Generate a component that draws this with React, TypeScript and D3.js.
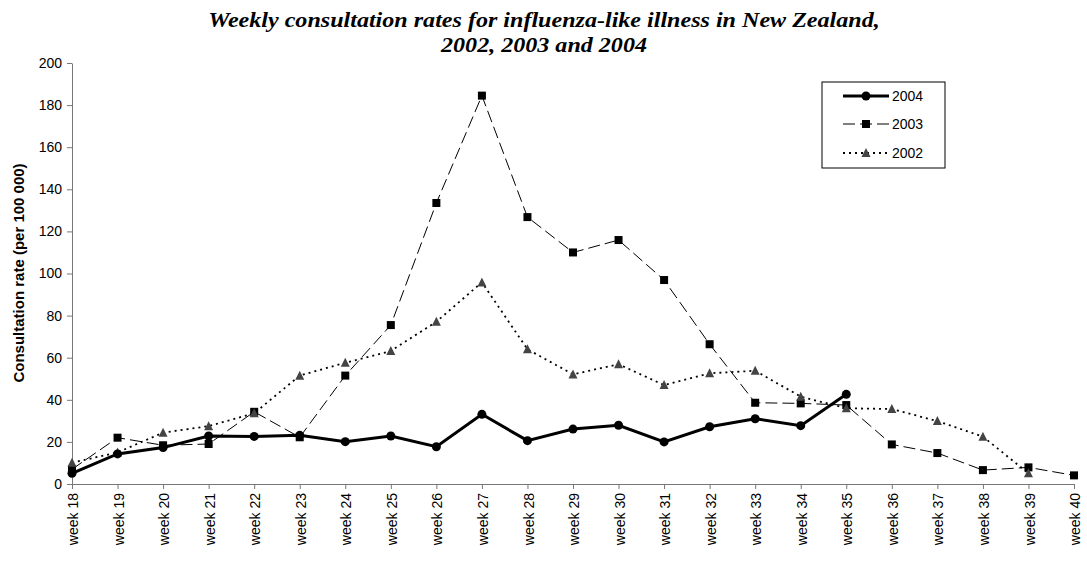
import React, { useEffect, useRef } from 'react';
import * as d3 from 'd3';

const weeks = ['week 18', 'week 19', 'week 20', 'week 21', 'week 22', 'week 23', 'week 24', 'week 25', 'week 26', 'week 27', 'week 28', 'week 29', 'week 30', 'week 31', 'week 32', 'week 33', 'week 34', 'week 35', 'week 36', 'week 37', 'week 38', 'week 39', 'week 40'];

const rates2004 = [5.1, 14.3, 17.3, 22.8, 22.6, 23.1, 20.1, 22.8, 17.7, 33.1, 20.6, 26.1, 27.9, 20.0, 27.2, 31.0, 27.7, 42.6];
const rates2003 = [7.0, 22.0, 18.4, 19.0, 34.3, 22.2, 51.5, 75.5, 133.5, 184.5, 126.8, 110.0, 115.9, 96.9, 66.4, 38.6, 38.3, 37.5, 18.8, 14.7, 6.6, 7.9, 4.1];
const rates2002 = [10.1, 15.0, 24.4, 27.5, 33.6, 51.5, 57.6, 63.2, 77.1, 95.8, 64.0, 52.1, 56.9, 47.0, 52.6, 53.8, 41.5, 36.0, 35.6, 29.9, 22.5, 5.1];

const yTicks = [0, 20, 40, 60, 80, 100, 120, 140, 160, 180, 200];

const App = () => {
  const svgRef = useRef(null);

  useEffect(() => {
    const svg = d3.select(svgRef.current);
    svg.selectAll('*').remove();

    const left = 72, right = 1074, top = 63, bottom = 484;
    const axisColor = '#777';

    const x = d3.scalePoint().domain(weeks).range([left, right]);
    const y = d3.scaleLinear().domain([0, 200]).range([bottom, top]);

    // title, squeezed to the width of the original
    const title = svg.append('g')
      .attr('font-family', '"Liberation Serif", "Times New Roman", serif')
      .attr('font-weight', 'bold')
      .attr('font-style', 'italic')
      .attr('font-size', 22)
      .attr('text-anchor', 'middle');
    const t1 = title.append('text').attr('x', 0).attr('y', 27)
      .text('Weekly consultation rates for influenza-like illness in New Zealand,');
    title.append('text').attr('x', 0).attr('y', 52).text('2002, 2003 and 2004');
    const w = (t1.node() as SVGTextElement).getComputedTextLength();
    const sx = w > 0 ? 672 / w : 1;
    title.attr('transform', `translate(544,0) scale(${sx},1)`);

    // y axis
    const yAxis = svg.append('g')
      .attr('transform', `translate(${left},0)`)
      .call(d3.axisLeft(y).tickValues(yTicks).tickSize(5).tickPadding(5).tickSizeOuter(0));
    yAxis.select('.domain').attr('stroke', axisColor);
    yAxis.selectAll('.tick line').attr('stroke', axisColor);
    yAxis.selectAll('.tick text')
      .attr('font-family', 'Arial, "Liberation Sans", sans-serif')
      .attr('font-size', 14)
      .attr('fill', '#000');

    // x axis
    const xAxis = svg.append('g')
      .attr('transform', `translate(0,${bottom})`)
      .call(d3.axisBottom(x).tickSize(5).tickSizeOuter(0));
    xAxis.select('.domain').attr('stroke', axisColor);
    xAxis.selectAll('.tick line').attr('stroke', axisColor);
    xAxis.selectAll('.tick text')
      .attr('font-family', 'Arial, "Liberation Sans", sans-serif')
      .attr('font-size', 14)
      .attr('fill', '#000')
      .attr('transform', 'rotate(-90)')
      .attr('text-anchor', 'end')
      .attr('x', -9)
      .attr('y', 0)
      .attr('dy', '0.4em');

    // y label
    svg.append('text')
      .attr('transform', 'translate(24,273) rotate(-90)')
      .attr('text-anchor', 'middle')
      .attr('font-family', 'Arial, "Liberation Sans", sans-serif')
      .attr('font-weight', 'bold')
      .attr('font-size', 15)
      .text('Consultation rate (per 100 000)');

    const line = d3.line<number>()
      .x((d, i) => x(weeks[i]) as number)
      .y(d => y(d));

    const sq = 8, tri = 9;
    const triPath = (cx, cy) => `M${cx},${cy - tri * 0.55}L${cx + tri / 2},${cy + tri * 0.45}L${cx - tri / 2},${cy + tri * 0.45}Z`;

    // 2003
    svg.append('path').datum(rates2003)
      .attr('d', line).attr('fill', 'none')
      .attr('stroke', '#000').attr('stroke-width', 1)
      .attr('stroke-dasharray', '12,5');
    svg.selectAll('.sq').data(rates2003).enter().append('rect')
      .attr('x', (d, i) => (x(weeks[i]) as number) - sq / 2)
      .attr('y', d => y(d) - sq / 2)
      .attr('width', sq).attr('height', sq).attr('fill', '#000');

    // 2002
    svg.append('path').datum(rates2002)
      .attr('d', line).attr('fill', 'none')
      .attr('stroke', '#000').attr('stroke-width', 1.8)
      .attr('stroke-dasharray', '2,4');
    svg.selectAll('.tri').data(rates2002).enter().append('path')
      .attr('d', (d, i) => triPath(x(weeks[i]) as number, y(d)))
      .attr('fill', '#444');

    // 2004
    svg.append('path').datum(rates2004)
      .attr('d', line).attr('fill', 'none')
      .attr('stroke', '#000').attr('stroke-width', 3);
    svg.selectAll('.dot').data(rates2004).enter().append('circle')
      .attr('cx', (d, i) => x(weeks[i]) as number)
      .attr('cy', d => y(d))
      .attr('r', 4.5).attr('fill', '#000');

    // legend
    const lg = svg.append('g');
    lg.append('rect').attr('x', 822).attr('y', 82).attr('width', 123).attr('height', 86)
      .attr('fill', '#fff').attr('stroke', '#000').attr('stroke-width', 1);
    const items = [
      { label: '2004', w: 3, dash: null, mark: 'circle', ly: 96 },
      { label: '2003', w: 1, dash: '12,5', mark: 'square', ly: 124 },
      { label: '2002', w: 1.8, dash: '2,4', mark: 'tri', ly: 153 },
    ];
    items.forEach(it => {
      lg.append('line').attr('x1', 843).attr('x2', 889).attr('y1', it.ly).attr('y2', it.ly)
        .attr('stroke', '#000').attr('stroke-width', it.w)
        .attr('stroke-dasharray', it.dash);
      if (it.mark === 'circle') lg.append('circle').attr('cx', 866).attr('cy', it.ly).attr('r', 4.5).attr('fill', '#000');
      if (it.mark === 'square') lg.append('rect').attr('x', 866 - sq / 2).attr('y', it.ly - sq / 2).attr('width', sq).attr('height', sq).attr('fill', '#000');
      if (it.mark === 'tri') lg.append('path').attr('d', triPath(866, it.ly)).attr('fill', '#444');
      lg.append('text').attr('x', 892).attr('y', it.ly).attr('dy', '0.36em')
        .attr('font-family', 'Arial, "Liberation Sans", sans-serif')
        .attr('font-size', 14).text(it.label);
    });
  }, []);

  return (
    <svg ref={svgRef} width="1087" height="561"
      style={{ position: 'absolute', left: 0, top: 0, background: '#fff' }} />
  );
};

export default App;
